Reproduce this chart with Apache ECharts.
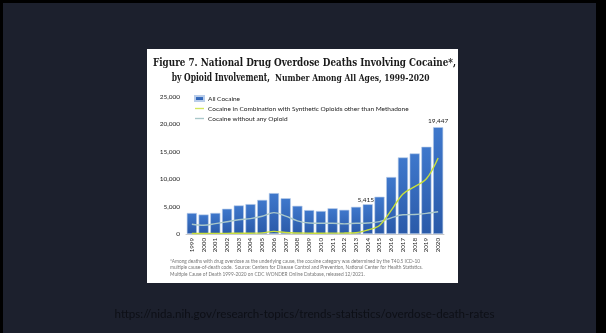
<!DOCTYPE html>
<html><head><meta charset="utf-8">
<script src="https://cdn.jsdelivr.net/npm/echarts@6/dist/echarts.min.js"></script>
<style>html,body{margin:0;padding:0;background:#000;}#c{width:606px;height:333px;}</style>
</head><body><div id="c"></div>
<script>
const years = ['1999','2000','2001','2002','2003','2004','2005','2006','2007','2008','2009','2010','2011','2012','2013','2014','2015','2016','2017','2018','2019','2020'];
const allCocaine = [3822,3544,3833,4599,5199,5443,6208,7448,6512,5129,4350,4183,4681,4404,4944,5415,6784,10375,13942,14666,15883,19447];
const withSynthetic = [90,100,110,120,130,150,200,480,260,180,150,140,160,170,230,730,1560,4300,7300,8630,10050,13850];
const withoutOpioid = [1780,1600,1880,2240,2600,2800,3230,3900,3250,2400,2000,1950,1950,1850,1950,2000,2250,2950,3500,3550,3750,4050];
const labeledYears = ['2014','2020'];
const yTicks = [0,5000,10000,15000,20000,25000];
const seriesNames = ['All Cocaine','Cocaine in Combination with Synthetic Opioids other than Methadone','Cocaine without any Opioid'];

const chart = echarts.init(document.getElementById('c'));
const txt = '"Lato","Open Sans",sans-serif';
chart.setOption({
  animation:false,
  graphic:[
    {type:'rect',z:-30,shape:{x:3,y:3,width:593,height:330},style:{fill:'#1c202d'}},
    {type:'rect',z:-20,shape:{x:147,y:49,width:311,height:234},style:{fill:'#ffffff'}},
    {type:'text',z:5,x:304.5,y:63,scaleX:0.8,style:{text:'Figure 7. National Drug Overdose Deaths Involving Cocaine*,',font:'bold 11px "DejaVu Serif"',fill:'#1a1a1a',align:'center',verticalAlign:'middle'}},
    {type:'text',z:5,x:171.7,y:78,scaleX:0.69,style:{text:'by Opioid Involvement,',font:'bold 11px "DejaVu Serif"',fill:'#1a1a1a',align:'left',verticalAlign:'middle'}},
    {type:'text',z:5,x:275,y:78.5,scaleX:0.89,style:{text:'Number Among All Ages, 1999-2020',font:'bold 8.5px "DejaVu Serif"',fill:'#1a1a1a',align:'left',verticalAlign:'middle'}},
    {type:'text',z:5,x:170,y:258,style:{text:'*Among deaths with drug overdose as the underlying cause, the cocaine category was determined by the T40.5 ICD-10\nmultiple cause-of-death code.  Source: Centers for Disease Control and Prevention, National Center for Health Statistics.\nMultiple Cause of Death 1999-2020 on CDC WONDER Online Database, released 12/2021.',font:'4.8px '+txt,lineHeight:6.5,fill:'#777'}},
    {type:'text',z:5,x:304.5,y:314,style:{text:'https://nida.nih.gov/research-topics/trends-statistics/overdose-death-rates',font:'11.6px '+txt,fill:'#0d0f16',align:'center',verticalAlign:'middle'}}
  ],
  grid:{left:186,right:162,top:96.7,bottom:99,containLabel:false},
  legend:{orient:'vertical',left:194,top:95,padding:0,itemWidth:9,itemHeight:5,itemGap:3,
    textStyle:{fontSize:6.5,color:'#222',fontFamily:txt,padding:[0,0,0,-1]},
    data:[{name:seriesNames[0],icon:'rect'},{name:seriesNames[1],icon:'path://M0,0L10,0L10,1.5L0,1.5Z'},{name:seriesNames[2],icon:'path://M0,0L10,0L10,1.5L0,1.5Z'}]},
  xAxis:{type:'category',data:years,axisTick:{show:false},axisLine:{lineStyle:{color:'#bbb',width:0.8}},
    axisLabel:{rotate:90,fontSize:6.2,color:'#222',fontFamily:txt,margin:4,interval:0}},
  yAxis:{type:'value',min:0,max:25000,interval:5000,splitLine:{show:false},axisLine:{show:false},axisTick:{show:false},
    axisLabel:{fontSize:6.5,color:'#222',fontFamily:txt,margin:6,formatter:v=>yTicks.includes(v)?v.toLocaleString('en-US'):''}},
  series:[
    {name:seriesNames[0],type:'bar',barCategoryGap:'14%',z:2,
      itemStyle:{color:new echarts.graphic.LinearGradient(0,0,0,1,[{offset:0,color:'#3f78cc'},{offset:1,color:'#2a5aa9'}]),borderColor:'#b9cdea',borderWidth:0.6},
      data:allCocaine.map((v,i)=>labeledYears.includes(years[i])?{value:v,label:{show:true,position:'top',distance:i===15?1:3,offset:i===15?[-2,0]:[0,0],fontSize:6.5,color:'#222',fontFamily:txt,formatter:p=>p.value.toLocaleString('en-US')}}:v)},
    {name:seriesNames[1],type:'line',smooth:0.35,showSymbol:false,z:4,lineStyle:{color:'#c9df3a',width:1.4},itemStyle:{color:'#d4e85a'},data:withSynthetic},
    {name:seriesNames[2],type:'line',smooth:0.35,showSymbol:false,z:3,lineStyle:{color:'#a9c7c9',width:1.4},itemStyle:{color:'#a9c7c9'},data:withoutOpioid}
  ]
});
</script></body></html>
